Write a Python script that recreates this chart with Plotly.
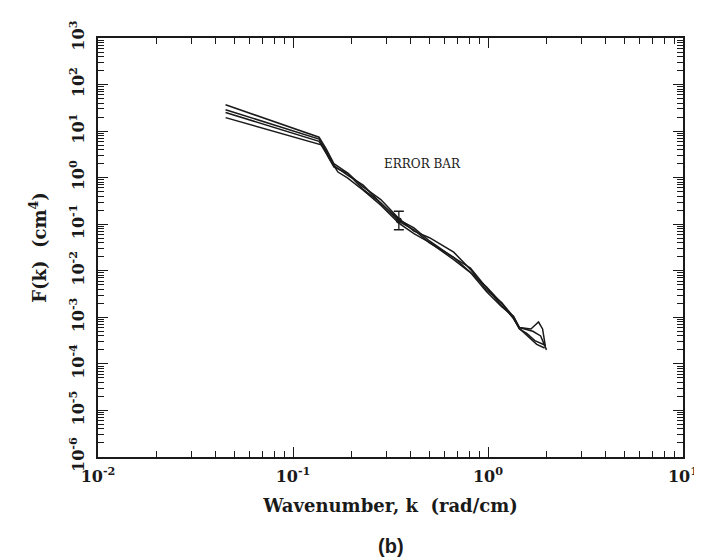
import plotly.graph_objects as go

# ---- data (k in rad/cm, F in cm^4) ----
k1 = [0.0451, 0.136, 0.148, 0.162, 0.191, 0.229, 0.282, 0.349, 0.417, 0.501, 0.667, 0.813, 0.984, 1.175, 1.352, 1.449, 1.660, 1.816, 1.905, 1.968]
F1 = [36.7, 7.41, 4.17, 2.00, 1.26, 0.631, 0.339, 0.132, 0.0708, 0.0513, 0.0251, 0.0107, 0.00380, 0.00209, 0.00102, 6.03e-4, 5.62e-4, 7.94e-4, 5.62e-4, 2.40e-4]

k2 = [0.0451, 0.136, 0.148, 0.162, 0.191, 0.229, 0.282, 0.349, 0.417, 0.501, 0.667, 0.813, 0.984, 1.175, 1.352, 1.449, 1.585, 1.738, 1.968]
F2 = [28.8, 6.76, 3.72, 1.82, 1.12, 0.692, 0.282, 0.126, 0.0832, 0.0437, 0.0191, 0.0115, 0.00427, 0.00178, 9.77e-4, 5.62e-4, 4.47e-4, 3.16e-4, 2.51e-4]

k3 = [0.0451, 0.136, 0.148, 0.162, 0.191, 0.229, 0.282, 0.349, 0.417, 0.501, 0.667, 0.813, 0.984, 1.175, 1.352, 1.449, 1.622, 1.778, 1.950]
F3 = [25.1, 6.03, 3.31, 1.70, 1.23, 0.562, 0.288, 0.115, 0.0759, 0.0398, 0.0195, 0.00933, 0.00447, 0.00200, 9.33e-4, 5.75e-4, 3.80e-4, 2.63e-4, 2.19e-4]

k4 = [0.0451, 0.141, 0.155, 0.170, 0.191, 0.229, 0.282, 0.349, 0.417, 0.501, 0.667, 0.813, 0.984, 1.175, 1.352, 1.449, 1.698, 1.862, 1.995]
F4 = [19.5, 5.01, 2.40, 1.32, 0.977, 0.537, 0.257, 0.105, 0.0631, 0.0407, 0.0174, 0.00912, 0.00355, 0.00170, 0.00105, 6.03e-4, 5.01e-4, 3.98e-4, 2.00e-4]

err_k = [0.349]
err_F = [0.12]
err_plus = [0.07]
err_minus = [0.044]

x_tickvals = [0.01, 0.1, 1, 10]
x_ticktext = ["10<sup>-2</sup>", "10<sup>-1</sup>", "10<sup>0</sup>", "10<sup>1</sup>"]
y_tickvals = [1e-6, 1e-5, 1e-4, 1e-3, 1e-2, 1e-1, 1, 10, 100, 1000]
y_ticktext = ["10<sup>-6</sup>", "10<sup>-5</sup>", "10<sup>-4</sup>", "10<sup>-3</sup>", "10<sup>-2</sup>",
              "10<sup>-1</sup>", "10<sup>0</sup>", "10<sup>1</sup>", "10<sup>2</sup>", "10<sup>3</sup>"]

SERIF = "DejaVu Serif, Liberation Serif, serif"
INK = "#1a1a1a"

fig = go.Figure()
for kk, ff in [(k1, F1), (k2, F2), (k3, F3), (k4, F4)]:
    fig.add_trace(go.Scatter(x=kk, y=ff, mode="lines",
                             line=dict(color=INK, width=1.5), showlegend=False,
                             hoverinfo="skip"))

fig.add_trace(go.Scatter(x=err_k, y=err_F, mode="markers",
                         marker=dict(color=INK, size=6),
                         error_y=dict(type="data", symmetric=False, array=err_plus,
                                      arrayminus=err_minus, color=INK, thickness=1.3, width=5),
                         showlegend=False, hoverinfo="skip"))

axis_common = dict(
    type="log", showgrid=False, zeroline=False,
    showline=True, linecolor=INK, linewidth=1.5, mirror="allticks",
    ticks="inside", ticklen=10, tickcolor=INK, tickwidth=1.2,
    minor=dict(ticks="inside", ticklen=6, tickcolor=INK, tickwidth=1, dtick="D1", showgrid=False),
    tickfont=dict(family=SERIF, size=16, color=INK, weight="bold"),
)

fig.update_xaxes(**axis_common, range=[-2, 1], tickvals=x_tickvals, ticktext=x_ticktext,
                 ticklabelstandoff=4,
                 title=dict(text="Wavenumber, k  (rad/cm)",
                            font=dict(family=SERIF, size=18, color=INK, weight="bold"),
                            standoff=14))
fig.update_yaxes(**axis_common, range=[-6, 3], tickvals=y_tickvals, ticktext=y_ticktext,
                 tickangle=-90, ticklabelstandoff=6,
                 title=dict(text="F(k)  (cm<sup>4</sup>)",
                            font=dict(family=SERIF, size=18, color=INK, weight="bold"),
                            standoff=15))

fig.add_annotation(x=-0.334, y=0.30, xref="x", yref="y", text="ERROR BAR", showarrow=False,
                   font=dict(family=SERIF, size=12, color=INK))
fig.add_annotation(x=0.5, y=-0.213, xref="paper", yref="paper", text="(b)", showarrow=False,
                   xanchor="center", yanchor="middle",
                   font=dict(family="Liberation Sans, Arial, sans-serif", size=20, color=INK, weight="bold"))

fig.update_layout(width=702, height=560, margin=dict(l=90, r=24, t=22, b=111),
                  paper_bgcolor="white", plot_bgcolor="white")

fig.write_html("out.html")
